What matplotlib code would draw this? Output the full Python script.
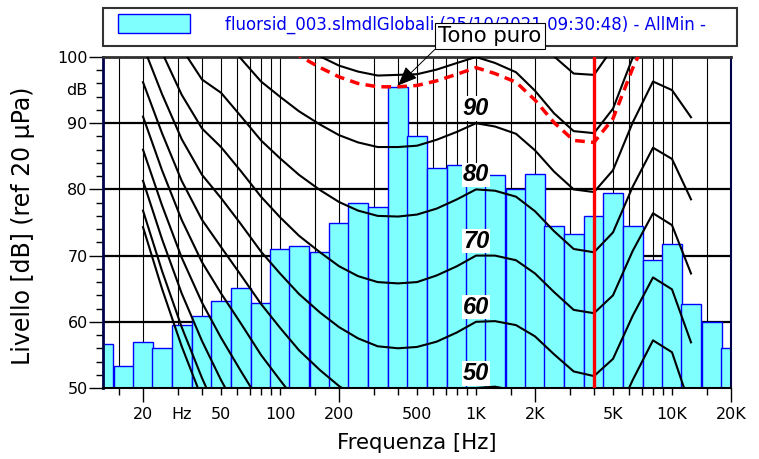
import numpy as np
import matplotlib
matplotlib.use('Agg')
import matplotlib.pyplot as plt
from matplotlib.patches import Rectangle
from matplotlib.ticker import FixedLocator, FixedFormatter
from matplotlib.transforms import offset_copy

plt.rcParams['font.family'] = ['DejaVu Sans']

# spettro in terzi d'ottava
bande = [12.5, 16, 20, 25, 31.5, 40, 50, 63, 80, 100, 125, 160, 200, 250, 315, 400, 500, 630,
         800, 1000, 1250, 1600, 2000, 2500, 3150, 4000, 5000, 6300, 8000, 10000, 12500, 16000, 20000]
livelli = [56.7, 53.3, 57.0, 56.0, 59.5, 60.9, 63.2, 65.1, 62.8, 71.0, 71.5, 70.5, 75.0, 78.0, 77.4, 95.5, 88.1, 83.3,
           83.7, 82.0, 82.1, 80.0, 82.3, 74.5, 73.2, 76.0, 79.4, 74.5, 69.4, 71.7, 62.7, 59.9, 56.0]

# isofoniche, 20 Hz .. 12.5 kHz
f_iso = bande[2:31]
iso_soglia = [74.3, 65.0, 56.3, 48.4, 41.7]
iso_10 = [76.8, 67.7, 59.2, 51.5, 45.1, 39.2]
iso_20 = [81.3, 72.5, 64.3, 57.1, 51.2, 45.8, 40.5]
iso_30 = [86.0, 77.6, 69.7, 62.9, 57.6, 52.6, 47.6, 43.5]
iso_40 = [91.0, 82.9, 75.4, 69.0, 64.3, 59.8, 55.0, 51.2, 47.5, 44.3]
iso_50 = [96.2, 88.5, 81.3, 75.4, 71.3, 67.1, 62.7, 59.1, 55.7, 52.7, 50.3, 48.4, 47.1, 46.6, 46.6, 47.2,
          48.5, 50.0, 50.2, 49.6, 48.0, 45.5, 42.9, 42.3, 44.7, 51.2, 57.2, 55.4, 46.9]
iso_60 = [101.7, 94.4, 87.6, 82.2, 78.7, 74.8, 70.6, 67.3, 64.2, 61.4, 59.2, 57.5, 56.3, 56.0, 56.2, 57.0,
          58.4, 60.0, 60.1, 59.5, 57.8, 55.1, 52.5, 51.8, 54.4, 60.9, 66.7, 64.9, 56.9]
iso_70 = [107.6, 100.7, 94.3, 89.2, 86.4, 82.8, 78.9, 75.8, 73.0, 70.5, 68.4, 66.9, 66.0, 65.8, 66.0, 67.0,
          68.4, 70.0, 70.0, 69.3, 67.3, 64.5, 61.8, 61.3, 64.0, 70.7, 76.4, 74.6, 67.3]
iso_80 = [113.7, 107.3, 101.3, 96.6, 94.6, 91.1, 87.4, 84.7, 82.2, 79.9, 78.1, 76.8, 76.0, 75.9, 76.2, 77.1,
          78.5, 80.0, 79.8, 78.9, 76.7, 73.7, 71.0, 70.5, 73.5, 80.4, 86.3, 84.6, 78.5]
iso_90 = [120.3, 114.4, 108.7, 104.4, 103.2, 99.8, 96.3, 94.0, 91.8, 89.8, 88.2, 87.1, 86.4, 86.4, 86.6, 87.5,
          88.7, 90.0, 89.5, 88.4, 85.9, 82.7, 80.0, 79.6, 82.9, 90.1, 96.3, 95.0, 90.9]
f_100 = f_iso[7:27]
iso_100 = [103.6, 101.8, 100.1, 98.7, 97.8, 97.2, 97.3, 97.4, 98.1, 99.1, 100.0, 99.1, 97.7, 94.9, 91.5,
           88.8, 88.5, 92.2, 99.9, 106.6]
f_110 = f_iso[20:26]
iso_110 = [103.8, 100.1, 97.5, 97.3, 101.4, 109.6]
# isofonica del tono puro (400 Hz)
f_tono = f_iso[7:27]
iso_tono = [102.1, 100.2, 98.4, 97.0, 96.0, 95.5, 95.5, 95.7, 96.4, 97.4, 98.4, 97.5, 96.2, 93.5, 90.1,
            87.4, 87.1, 90.7, 98.3, 104.9]
etichette_iso = [50, 60, 70, 80, 90]

griglia_x = [15, 20, 30, 40, 50, 60, 70, 80, 90, 100, 150, 200, 300, 400, 500, 600, 700, 800, 900,
             1000, 1500, 2000, 3000, 4000, 5000, 6000, 7000, 8000, 9000, 10000, 15000]

fig = plt.figure(figsize=(7.59, 4.59), dpi=100)
ax = fig.add_axes([103/759, 1-388/459, 628/759, 331/459])
ax.set_xscale('log')

for g in griglia_x:
    ax.axvline(g, color='black', lw=0.8, zorder=1)
for v in [60, 70, 80, 90]:
    ax.axhline(v, color='black', lw=1.6, zorder=1)

lefts = [f * 2**(-1/6) for f in bande]
widths = [f * (2**(1/6) - 2**(-1/6)) for f in bande]
ax.bar(lefts, livelli, width=widths, align='edge', color='#80FFFF', edgecolor='#0000FF', linewidth=1.0, zorder=2)

curve = [iso_soglia, iso_10, iso_20, iso_30, iso_40, iso_50, iso_60, iso_70, iso_80, iso_90]
for c in curve:
    ax.plot(f_iso[:len(c)], c, color='black', lw=1.5, zorder=3)
ax.plot(f_100, iso_100, color='black', lw=1.5, zorder=3)
ax.plot(f_110, iso_110, color='black', lw=1.5, zorder=3)
ax.plot(f_tono, iso_tono, color='red', lw=2.5, dashes=(2.8, 1.8), zorder=4)
ax.axvline(4000, color='red', lw=2.4, zorder=4)

for L in etichette_iso:
    ax.text(1000, L + 2.2, str(L), ha='center', va='center', fontsize=17, fontweight='bold',
            fontstyle='italic', family='Liberation Sans', zorder=5,
            bbox=dict(fc='white', ec='none', pad=0.5))

ax.set_xlim(12.5, 20000)
ax.set_ylim(50, 100)

# assi
ax.xaxis.set_major_locator(FixedLocator([20, 200, 2000, 20000]))
ax.xaxis.set_major_formatter(FixedFormatter(['20', '200', '2K', '20K']))
x_minor = [15, 30, 40, 50, 60, 70, 80, 90, 100, 150, 300, 400, 500, 600, 700, 800, 900, 1000, 1500,
           3000, 4000, 5000, 6000, 7000, 8000, 9000, 10000, 15000]
x_minor_lab = {50: '50', 100: '100', 500: '500', 1000: '1K', 5000: '5K', 10000: '10K'}
ax.xaxis.set_minor_locator(FixedLocator(x_minor))
ax.xaxis.set_minor_formatter(FixedFormatter([x_minor_lab.get(f, '') for f in x_minor]))
ax.tick_params(axis='x', which='major', length=10, width=1, pad=4, labelsize=11.5)
ax.tick_params(axis='x', which='minor', length=5, width=1, pad=9, labelsize=11.5)
tr = offset_copy(ax.get_xaxis_transform(), fig=fig, y=-14, units='points')
ax.text(31.5, 0, 'Hz', transform=tr, ha='center', va='top', fontsize=11.5)

ax.set_yticks([50, 60, 70, 80, 90, 100])
ax.set_yticks(np.arange(52, 100, 2), minor=True)
ax.tick_params(axis='y', which='major', length=10, width=1, pad=1, labelsize=11.5)
ax.tick_params(axis='y', which='minor', length=5, width=1)
ty = offset_copy(ax.get_yaxis_transform(), fig=fig, x=-11, units='points')
ax.text(0, 95, 'dB', transform=ty, ha='right', va='center', fontsize=11.5)

ax.set_xlabel('Frequenza [Hz]', fontsize=15.3)
ax.xaxis.set_label_coords(0.5, -0.136)
ax.set_ylabel('Livello [dB] (ref 20 µPa)', fontsize=17)
ax.yaxis.set_label_coords(-0.108, 0.49)

ax.spines['left'].set_color('#00004a')
ax.spines['left'].set_linewidth(2)
ax.spines['right'].set_color('#00004a')
ax.spines['right'].set_linewidth(1.5)
ax.spines['top'].set_color('#303030')
ax.spines['top'].set_linewidth(2)
ax.spines['bottom'].set_linewidth(1.5)

# legenda (sotto agli assi, il riquadro "Tono puro" le va sopra)
fig.add_artist(Rectangle((103/759, 1-46/459), 634/759, 38/459, transform=fig.transFigure,
                         fill=False, ec='#333333', lw=1.5, zorder=-2))
fig.add_artist(Rectangle((118/759, 1-33/459), 72/759, 19/459, transform=fig.transFigure,
                         fc='#80FFFF', ec='#0000FF', lw=1.0, zorder=-2))
fig.text(225/759, 1-25/459, 'fluorsid_003.slmdlGlobali (25/10/2021 09:30:48) - AllMin -',
         color='#0000EE', fontsize=12, ha='left', va='center', zorder=-2)

ax.annotate('Tono puro', xy=(400, 95.7), xycoords='data', xytext=(490/759, 1-36/459),
            textcoords='figure fraction', ha='center', va='center', fontsize=15.3,
            bbox=dict(boxstyle='square,pad=0.15', fc='white', ec='black', lw=0.8),
            arrowprops=dict(arrowstyle='-|>,head_length=0.6,head_width=0.25', color='black', lw=0.7,
                            mutation_scale=20, relpos=(0, 0), shrinkA=0, shrinkB=0),
            annotation_clip=False, zorder=6)

fig.savefig('out.png', dpi=100)
